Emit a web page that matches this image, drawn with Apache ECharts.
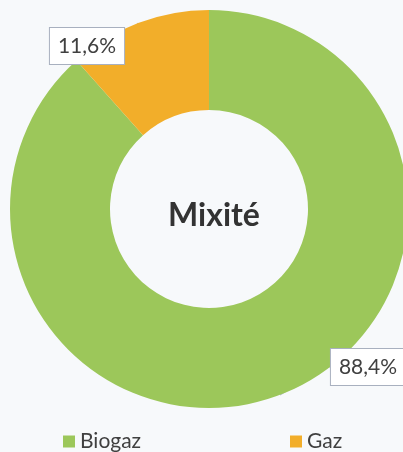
<!DOCTYPE html>
<html>
<head>
<meta charset="utf-8">
<script src="https://cdn.jsdelivr.net/npm/echarts@6/dist/echarts.min.js"></script>
<style>
html,body{margin:0;padding:0;background:#f7f9fb;}
#c{width:403px;height:452px;}
</style>
</head>
<body>
<div id="c"></div>
<script>
const categories = ['Biogaz', 'Gaz'];
const values = [88.4, 11.6];
const valueLabels = ['88,4%', '11,6%'];
const centerTitle = 'Mixité';
const colors = ['#9cc75a', '#f2ae2a'];
const labelSpots = [[368, 367], [87, 46]];

const chart = echarts.init(document.getElementById('c'));
const font = 'Lato, "Open Sans", sans-serif';
chart.setOption({
  backgroundColor: '#f7f9fb',
  animation: false,
  title: {
    text: centerTitle,
    left: 209, top: 211, textAlign: 'center', textVerticalAlign: 'middle',
    textStyle: {fontFamily: font, fontSize: 32, fontWeight: 'bold', color: '#333333'}
  },
  legend: [
    {data: [categories[0]], left: 58, top: 426, padding: 5, itemWidth: 12, itemHeight: 12, itemGap: 4,
     icon: 'rect', textStyle: {fontFamily: font, fontSize: 21, color: '#404040'}},
    {data: [categories[1]], left: 285, top: 426, padding: 5, itemWidth: 12, itemHeight: 12, itemGap: 4,
     icon: 'rect', textStyle: {fontFamily: font, fontSize: 21, color: '#404040'}}
  ],
  series: [{
    type: 'pie',
    center: [209, 209],
    radius: [99, 199],
    startAngle: 90,
    clockwise: true,
    avoidLabelOverlap: false,
    data: categories.map((n, i) => ({name: n, value: values[i], itemStyle: {color: colors[i]}})),
    label: {
      show: true,
      formatter: p => valueLabels[p.dataIndex],
      fontFamily: font, fontSize: 21, color: '#404040',
      backgroundColor: '#ffffff', borderColor: '#a8b0bf', borderWidth: 1,
      padding: [8, 8, 7, 8]
    },
    labelLine: {show: true, length: 5, length2: 5, lineStyle: {color: '#b8c0cc', width: 1.5}},
    labelLayout: p => ({x: labelSpots[p.dataIndex][0], y: labelSpots[p.dataIndex][1], align: 'center', verticalAlign: 'middle'}),
    emphasis: {disabled: true}
  }]
});
</script>
</body>
</html>
